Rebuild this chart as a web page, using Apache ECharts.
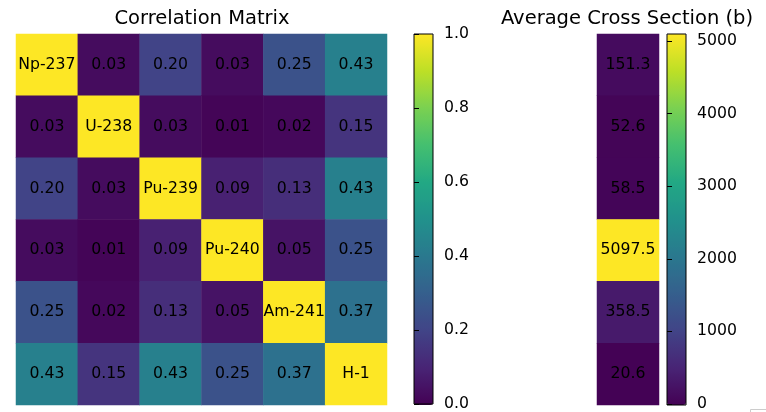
<!DOCTYPE html>
<html>
<head>
<meta charset="utf-8">
<script src="https://cdn.jsdelivr.net/npm/echarts@6/dist/echarts.min.js"></script>
<style>html,body{margin:0;padding:0;background:#fff}#c{width:766px;height:412px}</style>
</head>
<body>
<div id="c"></div>
<script>
var nuclides = ['Np-237', 'U-238', 'Pu-239', 'Pu-240', 'Am-241', 'H-1'];
var corrRow0 = [1.00, 0.03, 0.20, 0.03, 0.25, 0.43];
var corrRow1 = [0.03, 1.00, 0.03, 0.01, 0.02, 0.15];
var corrRow2 = [0.20, 0.03, 1.00, 0.09, 0.13, 0.43];
var corrRow3 = [0.03, 0.01, 0.09, 1.00, 0.05, 0.25];
var corrRow4 = [0.25, 0.02, 0.13, 0.05, 1.00, 0.37];
var corrRow5 = [0.43, 0.15, 0.43, 0.25, 0.37, 1.00];
var crossSection = [151.3, 52.6, 58.5, 5097.5, 358.5, 20.6];
var corrTicks = [0, 0.2, 0.4, 0.6, 0.8, 1.0];
var csTicks = [0, 1000, 2000, 3000, 4000, 5000];

var viridis = ['#440154','#482475','#414487','#355f8d','#2a788e','#21918c','#22a884','#44bf70','#7ad151','#bddf26','#fde725'];
var corrRows = [corrRow0, corrRow1, corrRow2, corrRow3, corrRow4, corrRow5];
var corrData = [];
corrRows.forEach(function (row, r) {
  row.forEach(function (v, c) { corrData.push([c, r, v]); });
});
var csData = crossSection.map(function (v, i) { return [0, i, v]; });
var csMax = Math.max.apply(null, crossSection);

var FONT = 'DejaVu Sans';
var chart = echarts.init(document.getElementById('c'));
chart.setOption({
  animation: false,
  textStyle: { fontFamily: FONT },
  title: [
    { text: 'Correlation Matrix', left: 202, textAlign: 'center', top: 9, padding: 0,
      textStyle: { fontFamily: FONT, fontSize: 19.5, fontWeight: 'normal', color: '#000' } },
    { text: 'Average Cross Section (b)', left: 627, textAlign: 'center', top: 9, padding: 0,
      textStyle: { fontFamily: FONT, fontSize: 19.5, fontWeight: 'normal', color: '#000' } }
  ],
  grid: [
    { left: 16, top: 34, width: 371, height: 371 },
    { left: 597, top: 34, width: 62, height: 371 },
    { left: 414, top: 34, width: 19, height: 371, show: true, borderColor: '#000', borderWidth: 1, backgroundColor: 'transparent', z: 10 },
    { left: 667, top: 34, width: 19, height: 371, show: true, borderColor: '#000', borderWidth: 1, backgroundColor: 'transparent', z: 10 },
    { left: 667, top: 34 + 371 * (1 - csTicks[5] / csMax), width: 19, height: 371 * csTicks[5] / csMax, z: 10 }
  ],
  xAxis: [
    { type: 'category', gridIndex: 0, data: nuclides, show: false },
    { type: 'category', gridIndex: 1, data: [''], show: false },
    { type: 'value', gridIndex: 2, show: false },
    { type: 'value', gridIndex: 3, show: false },
    { type: 'value', gridIndex: 4, show: false }
  ],
  yAxis: [
    { type: 'category', gridIndex: 0, data: nuclides, inverse: true, show: false },
    { type: 'category', gridIndex: 1, data: nuclides, inverse: true, show: false },
    { type: 'value', gridIndex: 2, min: corrTicks[0], max: corrTicks[5], interval: 0.2, position: 'right', z: 10,
      axisLine: { show: false }, splitLine: { show: false },
      axisTick: { show: true, length: 5, lineStyle: { color: '#000', width: 1 } },
      axisLabel: { margin: 11, fontSize: 15.7, color: '#000', fontFamily: FONT, formatter: function (v) { return v.toFixed(1); } } },
    { type: 'value', gridIndex: 3, min: 0, max: csMax, show: false },
    { type: 'value', gridIndex: 4, min: csTicks[0], max: csTicks[5], interval: 1000, position: 'right', z: 10,
      axisLine: { show: false }, splitLine: { show: false },
      axisTick: { show: true, length: 5, lineStyle: { color: '#000', width: 1 } },
      axisLabel: { margin: 11, fontSize: 15.7, color: '#000', fontFamily: FONT, formatter: function (v) { return String(v); } } }
  ],
  visualMap: [
    { type: 'continuous', seriesIndex: 0, min: 0, max: 1, inRange: { color: viridis },
      left: 414, top: 34, itemWidth: 19, itemHeight: 371, padding: 0, text: null, calculable: false,
      hoverLink: false, showLabel: false, orient: 'vertical' },
    { type: 'continuous', seriesIndex: 1, min: 0, max: csMax, inRange: { color: viridis },
      left: 667, top: 34, itemWidth: 19, itemHeight: 371, padding: 0, text: null, calculable: false,
      hoverLink: false, showLabel: false, orient: 'vertical' }
  ],
  series: [
    { type: 'heatmap', xAxisIndex: 0, yAxisIndex: 0, data: corrData,
      label: { show: true, color: '#000', fontSize: 15.7, fontFamily: FONT,
        formatter: function (p) { return p.value[0] === p.value[1] ? nuclides[p.value[0]] : p.value[2].toFixed(2); } } },
    { type: 'heatmap', xAxisIndex: 1, yAxisIndex: 1, data: csData,
      label: { show: true, color: '#000', fontSize: 15.7, fontFamily: FONT,
        formatter: function (p) { return p.value[2].toFixed(1); } } }
  ],
  graphic: [
    { type: 'rect', shape: { x: 750.5, y: 409.5, width: 40, height: 20 },
      style: { fill: '#fff', stroke: '#cccccc', lineWidth: 1 }, z: 100 }
  ]
});
</script>
</body>
</html>
